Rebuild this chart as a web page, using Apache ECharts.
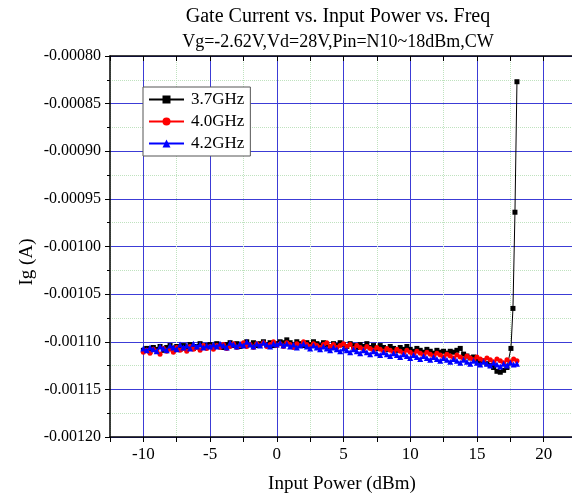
<!DOCTYPE html>
<html>
<head>
<meta charset="utf-8">
<script src="https://cdn.jsdelivr.net/npm/echarts@6/dist/echarts.min.js"></script>
<style>html,body{margin:0;padding:0;background:#fff}#c{width:572px;height:497px}</style>
</head>
<body>
<div id="c"></div>
<script>
// Input power (dBm)
const pin = [-10,-9.75,-9.5,-9.25,-9,-8.75,-8.5,-8.25,-8,-7.75,-7.5,-7.25,-7,-6.75,-6.5,-6.25,-6,-5.75,-5.5,-5.25,-5,
-4.75,-4.5,-4.25,-4,-3.75,-3.5,-3.25,-3,-2.75,-2.5,-2.25,-2,-1.75,-1.5,-1.25,-1,-0.75,-0.5,-0.25,0,
0.25,0.5,0.75,1,1.25,1.5,1.75,2,2.25,2.5,2.75,3,3.25,3.5,3.75,4,4.25,4.5,4.75,5,
5.25,5.5,5.75,6,6.25,6.5,6.75,7,7.25,7.5,7.75,8,8.25,8.5,8.75,9,9.25,9.5,9.75,10,
10.25,10.5,10.75,11,11.25,11.5,11.75,12,12.25,12.5,12.75,13,13.25,13.5,13.75,14,14.25,14.5,14.75,15,
15.25,15.5,15.75,16,16.25,16.5,16.75,17,17.25,17.5,17.75,18];

// Gate current, in microamps (uA)
const ig37 = [-1109,-1107,-1110,-1106,-1108,-1105,-1109,-1106,-1104,-1107,-1105,-1108,-1104,-1106,-1103,-1107,-1105,-1102,-1106,-1104,-1103,
-1105,-1102,-1104,-1106,-1103,-1101,-1104,-1102,-1105,-1103,-1100,-1103,-1101,-1104,-1102,-1100,-1103,-1101,-1104,-1102,
-1100,-1101,-1098,-1101,-1103,-1100,-1102,-1104,-1101,-1103,-1100,-1102,-1104,-1101,-1103,-1105,-1102,-1104,-1101,-1103,
-1105,-1102,-1104,-1106,-1103,-1105,-1102,-1106,-1104,-1107,-1104,-1106,-1108,-1105,-1107,-1109,-1106,-1108,-1105,-1108,
-1110,-1107,-1109,-1111,-1108,-1110,-1112,-1109,-1111,-1110,-1112,-1110,-1111,-1109,-1107,-1113,-1115,-1117,-1116,-1119,
-1121,-1120,-1123,-1125,-1127,-1131,-1132,-1130,-1127];
const pin37Tail = [17.55, 17.7, 17.85, 18.0];
const ig37Tail = [-1107, -1065, -964, -827];

const ig40 = [-1111,-1109,-1112,-1108,-1110,-1113,-1107,-1110,-1108,-1111,-1106,-1109,-1107,-1110,-1105,-1108,-1106,-1109,-1104,-1107,-1105,
-1108,-1104,-1106,-1103,-1107,-1105,-1102,-1106,-1104,-1101,-1105,-1103,-1106,-1102,-1104,-1101,-1105,-1103,-1100,-1104,
-1102,-1105,-1101,-1103,-1106,-1102,-1104,-1100,-1103,-1105,-1102,-1104,-1106,-1103,-1101,-1105,-1103,-1106,-1104,-1102,
-1105,-1103,-1107,-1104,-1106,-1108,-1105,-1107,-1109,-1106,-1108,-1110,-1107,-1109,-1111,-1108,-1110,-1112,-1109,-1111,
-1113,-1110,-1112,-1114,-1111,-1113,-1115,-1112,-1114,-1116,-1113,-1115,-1117,-1114,-1116,-1118,-1115,-1117,-1119,-1116,
-1118,-1120,-1117,-1119,-1121,-1118,-1120,-1122,-1119,-1121,-1118,-1120];

const ig42 = [-1107,-1109,-1106,-1108,-1110,-1105,-1107,-1109,-1104,-1106,-1108,-1103,-1106,-1104,-1107,-1102,-1105,-1103,-1106,-1104,-1105,
-1103,-1105,-1102,-1104,-1106,-1101,-1103,-1105,-1102,-1104,-1100,-1103,-1105,-1102,-1104,-1101,-1103,-1105,-1102,-1103,
-1101,-1104,-1102,-1105,-1103,-1106,-1104,-1102,-1105,-1107,-1104,-1106,-1108,-1105,-1107,-1109,-1106,-1108,-1110,-1107,
-1109,-1111,-1108,-1110,-1112,-1109,-1111,-1113,-1110,-1112,-1114,-1111,-1113,-1115,-1112,-1114,-1116,-1113,-1115,-1117,
-1114,-1116,-1118,-1115,-1117,-1119,-1116,-1118,-1120,-1117,-1119,-1121,-1118,-1120,-1122,-1119,-1121,-1123,-1120,-1122,
-1124,-1121,-1123,-1125,-1122,-1124,-1126,-1123,-1125,-1122,-1124,-1123];

const seriesNames = ['3.7GHz', '4.0GHz', '4.2GHz'];
const xTickValues = [-10, -5, 0, 5, 10, 15, 20];
const xTickLabels = ['-10', '-5', '0', '5', '10', '15', '20'];
const yTickValues = [-1200, -1150, -1100, -1050, -1000, -950, -900, -850, -800];
const yTickLabels = ['-0.00120', '-0.00115', '-0.00110', '-0.00105', '-0.00100', '-0.00095', '-0.00090', '-0.00085', '-0.00080'];
const titleLine1 = 'Gate Current vs. Input Power vs. Freq';
const titleLine2 = 'Vg=-2.62V,Vd=28V,Pin=N10~18dBm,CW';
const xName = 'Input Power (dBm)';
const yName = 'Ig (A)';

const FONT = '"Liberation Serif", "DejaVu Serif", serif';
const BLUE = '#3c3cd6';
const GREEN = '#bfe2bf';

const d37 = ig37.map((v, i) => [pin[i], v]).concat(ig37Tail.map((v, i) => [pin37Tail[i], v]));
const d40 = ig40.map((v, i) => [pin[i], v]);
const d42 = ig42.map((v, i) => [pin[i], v]);

function xLabel(v) {
  const k = xTickValues.findIndex(t => Math.abs(t - v) < 1e-9);
  return k >= 0 ? xTickLabels[k] : '';
}
function yLabel(v) {
  const k = yTickValues.findIndex(t => Math.abs(t - v) < 1e-9);
  return k >= 0 ? yTickLabels[k] : '';
}

const chart = echarts.init(document.getElementById('c'), null, {renderer: 'canvas'});
chart.setOption({
  animation: false,
  backgroundColor: '#fff',
  grid: {left: 110, top: 56, width: 467, height: 381, containLabel: false, outerBoundsMode: 'none'},
  legend: {
    data: seriesNames,
    orient: 'vertical',
    left: 143, top: 87,
    padding: [4, 6, 4, 5],
    itemGap: 5,
    itemWidth: 35, itemHeight: 10,
    backgroundColor: '#fff',
    borderColor: '#555', borderWidth: 1,
    textStyle: {fontFamily: FONT, fontSize: 17, color: '#000', padding: [0, 0, 0, 2]}
  },
  xAxis: [{
    type: 'value', position: 'bottom', min: -12.5, max: 22.5, interval: 2.5,
    axisLine: {show: true, onZero: false, lineStyle: {color: '#000', width: 1.5}},
    axisTick: {show: true, inside: false, length: 5, lineStyle: {color: '#000'}},
    axisLabel: {interval: 0, formatter: xLabel, fontFamily: FONT, fontSize: 17, color: '#000', margin: 9},
    splitLine: {show: true, lineStyle: {color: ['rgba(0,0,0,0)', BLUE], width: 1, type: 'solid'}}
  }, {
    type: 'value', position: 'top', min: -12.5, max: 22.5, interval: 2.5,
    axisLine: {show: true, onZero: false, lineStyle: {color: '#000', width: 1.5}},
    axisTick: {show: true, inside: true, length: 5, lineStyle: {color: '#000'}},
    axisLabel: {show: false},
    splitLine: {show: true, lineStyle: {color: [GREEN, 'rgba(0,0,0,0)'], width: 1, type: 'dotted'}}
  }],
  yAxis: [{
    type: 'value', position: 'left', min: -1200, max: -800, interval: 50,
    axisLine: {show: true, onZero: false, lineStyle: {color: '#000', width: 1.5}},
    axisTick: {show: true, inside: false, length: 5, lineStyle: {color: '#000'}},
    minorTick: {show: true, splitNumber: 2, length: 3, lineStyle: {color: '#000'}},
    axisLabel: {formatter: yLabel, fontFamily: FONT, fontSize: 16, color: '#000', margin: 9},
    splitLine: {show: true, lineStyle: {color: BLUE, width: 1}},
    minorSplitLine: {show: true, lineStyle: {color: GREEN, width: 1, type: 'dotted'}}
  }, {
    type: 'value', position: 'right', min: -1200, max: -800, interval: 50,
    axisLine: {show: true, onZero: false, lineStyle: {color: '#000', width: 1.5}},
    axisTick: {show: true, inside: true, length: 5, lineStyle: {color: '#000'}},
    axisLabel: {show: false},
    splitLine: {show: false}
  }],
  graphic: [
    {type: 'text', x: 338, y: 17, style: {text: titleLine1, font: '20px ' + FONT, fill: '#000', textAlign: 'center', textVerticalAlign: 'middle'}},
    {type: 'text', x: 338, y: 42, style: {text: titleLine2, font: '18px ' + FONT, fill: '#000', textAlign: 'center', textVerticalAlign: 'middle'}},
    {type: 'text', x: 342, y: 484, style: {text: xName, font: '19px ' + FONT, fill: '#000', textAlign: 'center', textVerticalAlign: 'middle'}},
    {type: 'text', x: 27, y: 262, rotation: Math.PI / 2, style: {text: yName, font: '19px ' + FONT, fill: '#000', textAlign: 'center', textVerticalAlign: 'middle'}}
  ],
  series: [
    {name: seriesNames[0], type: 'line', data: d37, symbol: 'rect', symbolSize: 5, showAllSymbol: true,
     lineStyle: {color: '#000', width: 1}, itemStyle: {color: '#000'}, z: 2},
    {name: seriesNames[1], type: 'line', data: d40, symbol: 'circle', symbolSize: 5, showAllSymbol: true,
     lineStyle: {color: '#ff0000', width: 1}, itemStyle: {color: '#ff0000'}, z: 3},
    {name: seriesNames[2], type: 'line', data: d42, symbol: 'triangle', symbolSize: 6, showAllSymbol: true,
     lineStyle: {color: '#0000ff', width: 1}, itemStyle: {color: '#0000ff'}, z: 4}
  ]
});
</script>
</body>
</html>
